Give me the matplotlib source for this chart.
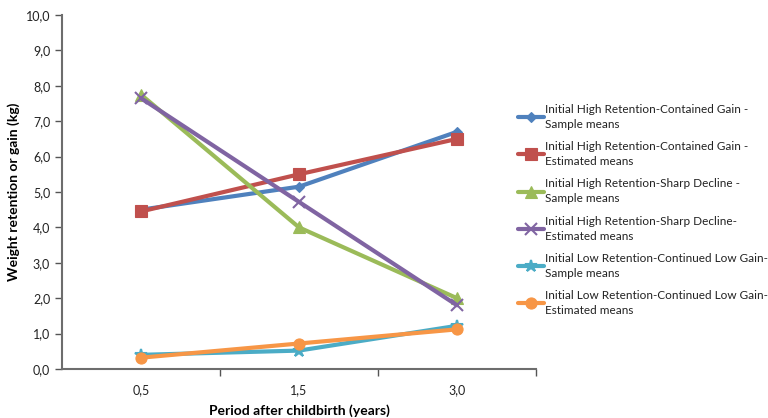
import matplotlib
matplotlib.use("Agg")
import matplotlib.pyplot as plt

plt.rcParams['font.family'] = ['Lato', 'DejaVu Sans']

categories = ["0,5", "1,5", "3,0"]
series_names = [
    "Initial High Retention-Contained Gain -\nSample means",
    "Initial High Retention-Contained Gain -\nEstimated means",
    "Initial High Retention-Sharp Decline -\nSample means",
    "Initial High Retention-Sharp Decline-\nEstimated means",
    "Initial Low Retention-Continued Low Gain-\nSample means",
    "Initial Low Retention-Continued Low Gain-\nEstimated means",
]
hc_sample = [4.50, 5.15, 6.70]
hc_est = [4.45, 5.50, 6.50]
hs_sample = [7.75, 4.00, 2.00]
hs_est = [7.65, 4.72, 1.80]
low_sample = [0.40, 0.52, 1.22]
low_est = [0.32, 0.72, 1.12]
yticks = [0, 1, 2, 3, 4, 5, 6, 7, 8, 9, 10]
ytick_labels = ["0,0", "1,0", "2,0", "3,0", "4,0", "5,0", "6,0", "7,0", "8,0", "9,0", "10,0"]

series = [hc_sample, hc_est, hs_sample, hs_est, low_sample, low_est]
colors = ["#4F81BD", "#C0504D", "#9BBB59", "#8064A2", "#4BACC6", "#F79646"]
markers = ["D", "s", "^", "x", "*", "o"]
msizes = [5, 8, 8, 8, 9, 8]

fig = plt.figure(figsize=(7.68, 4.18), dpi=100)
ax = fig.add_axes([62/768, 49/418, (536-62)/768, (369-15)/418])

x = list(range(len(categories)))
handles = []
for vals, c, m, ms, name in zip(series, colors, markers, msizes, series_names):
    h, = ax.plot(x, vals, color=c, lw=3, marker=m, ms=ms, mew=1.5 if m in ("x", "*") else 0.8,
                 mec=c, mfc=c, label=name, solid_capstyle='round')
    handles.append(h)

ax.set_xlim(-0.5, 2.5)
ax.set_ylim(0, 10)
ax.set_yticks(yticks)
ax.set_yticklabels(ytick_labels)
ax.set_xticks(x)
ax.set_xticklabels(categories)
ax.set_xticks([0.5, 1.5, 2.5], minor=True)
ax.tick_params(axis='x', which='major', length=0, pad=11, labelsize=9, colors='#222222')
ax.tick_params(axis='x', which='minor', length=5, width=1, color='#555555', direction='out')
ax.tick_params(axis='y', length=5, width=1, color='#555555', labelsize=9, colors='#222222', direction='out')

for s in ['top', 'right']:
    ax.spines[s].set_visible(False)
for s in ['left', 'bottom']:
    ax.spines[s].set_color('#6d6d6d')
    ax.spines[s].set_linewidth(1.5)

ax.set_ylabel("Weight retention or gain (kg)", fontsize=10, fontweight='bold', labelpad=4)
ax.set_xlabel("Period after childbirth (years)", fontsize=10, fontweight='bold', labelpad=6)

leg = fig.legend(handles=handles, loc='upper left', bbox_to_anchor=(513/768, 1 - 99/418),
                 frameon=False, fontsize=8.5, handlelength=2.2, handletextpad=0.15,
                 labelspacing=0.95, borderaxespad=0)
for t in leg.get_texts():
    t.set_linespacing(1.45)
    t.set_color('#222222')

fig.savefig("out.png", dpi=100)
